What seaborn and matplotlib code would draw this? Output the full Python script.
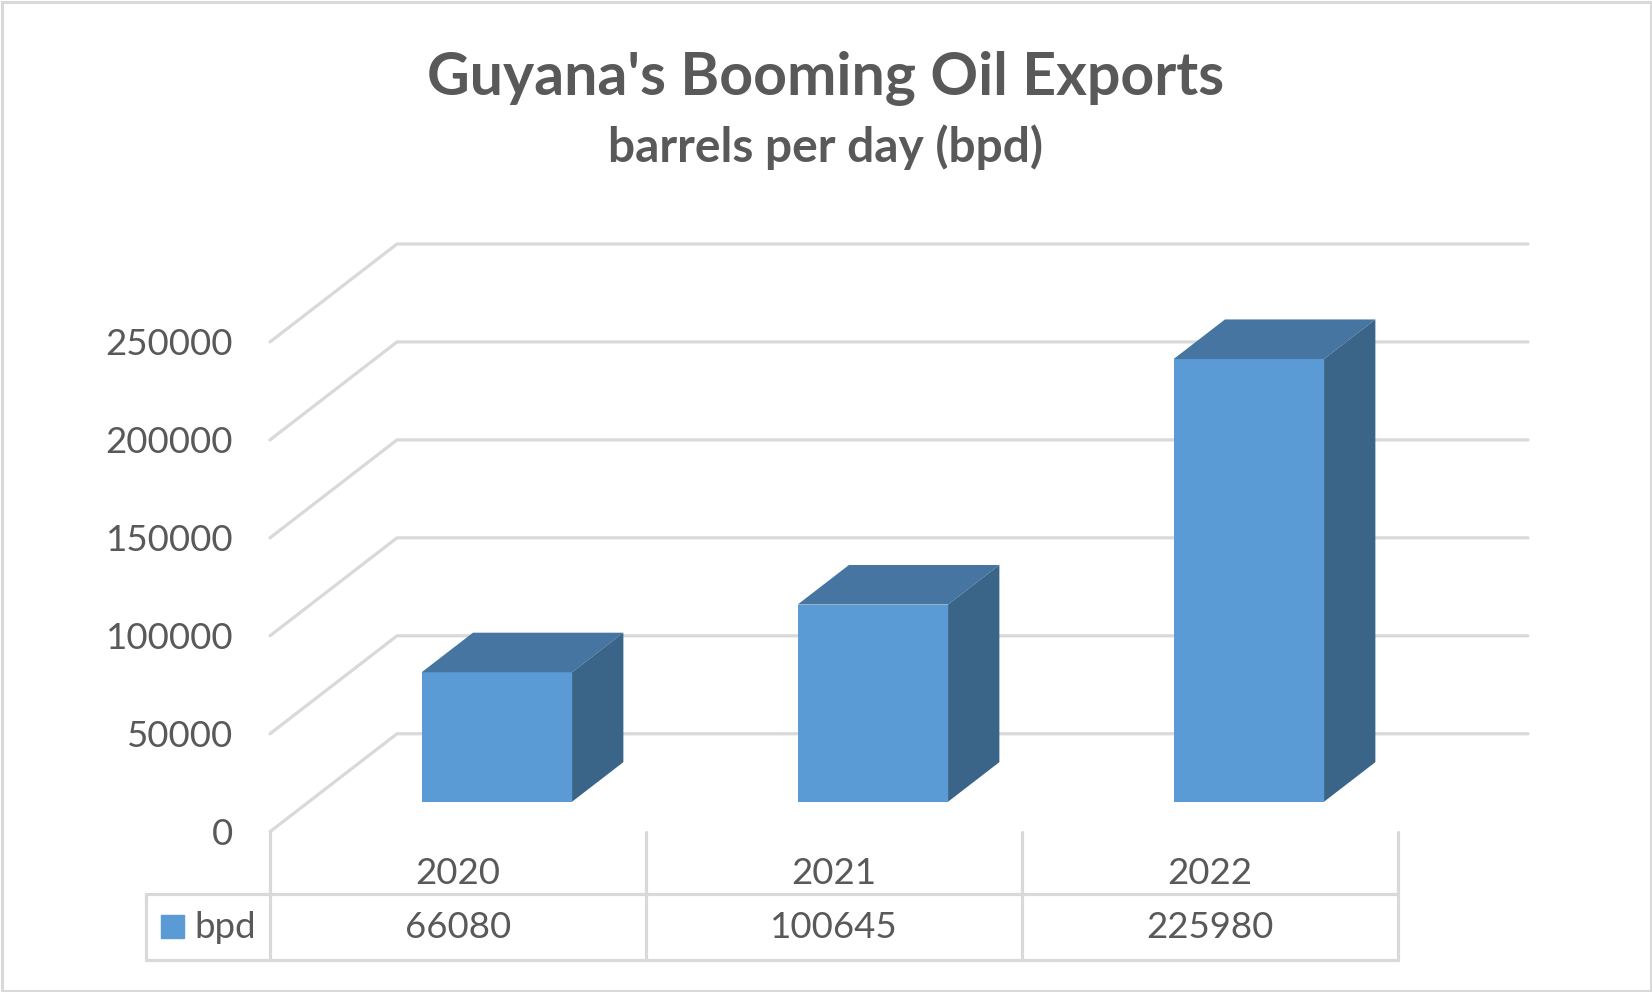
"""Guyana oil exports, 3-D column chart with data table."""
import matplotlib.pyplot as plt
import seaborn as sns
from matplotlib.lines import Line2D
from matplotlib.patches import Polygon, Rectangle

years = ["2020", "2021", "2022"]
bpd = [66080, 100645, 225980]
y_ticks = [0, 50000, 100000, 150000, 200000, 250000]
series_name = "bpd"

WIDTH, HEIGHT = 1652, 992
FRONT = "#5B9BD5"
TOP = "#4575A0"
SIDE = "#3A6488"
GRID = "#D9D9D9"
TEXT = "#595959"
LABEL_SIZE = 26.4

# pixel layout of the floor and the walls
LEFT, CELL = 270, 376
Y_ZERO = 831.7
PX_PER_TICK = 97.95
DEPTH_X, DEPTH_Y = 127 / CELL, 50000
BAR_Z0, BAR_Z1 = 0.306, 0.71

sns.set_theme(style="white")
plt.rcParams["font.family"] = ["Lato", "DejaVu Sans"]


def add_axes_px(fig, left, bottom, width, height):
    return fig.add_axes(
        [left / WIDTH, 1 - bottom / HEIGHT, width / WIDTH, height / HEIGHT]
    )


fig = plt.figure(figsize=(WIDTH / 100, HEIGHT / 100), dpi=100, facecolor="white")
fig.add_artist(
    Rectangle(
        (1.5 / WIDTH, 1.5 / HEIGHT),
        1 - 3 / WIDTH,
        1 - 3 / HEIGHT,
        transform=fig.transFigure,
        fill=False,
        edgecolor=GRID,
        linewidth=2.2,
    )
)

plot_height = 5 * PX_PER_TICK

# front plane: tick labels, wall grid and the data table
ax = add_axes_px(fig, LEFT, Y_ZERO, 3 * CELL, plot_height)
ax.set_xlim(-0.5, 2.5)
ax.set_ylim(0, y_ticks[-1])
sns.despine(ax=ax, left=True, bottom=True)
ax.patch.set_alpha(0)
ax.set_yticks(y_ticks)
ax.set_yticklabels([str(t) for t in y_ticks])
ax.set_xticks(range(len(years)))
ax.set_xticklabels(years)
ax.tick_params(axis="y", length=0, pad=26.5, labelsize=LABEL_SIZE, labelcolor=TEXT)
ax.tick_params(axis="x", length=0, pad=18.5, labelsize=LABEL_SIZE, labelcolor=TEXT)

x_back = -0.5 + DEPTH_X
x_end = (1528 - LEFT) / CELL - 0.5
for tick in y_ticks:
    ax.plot(
        [-0.5, x_back, x_end],
        [tick, tick + DEPTH_Y, tick + DEPTH_Y],
        color=GRID,
        lw=2.3,
        clip_on=False,
        zorder=1,
    )

table_top = -(893.5 - Y_ZERO) / plot_height
table_bottom = -(960 - Y_ZERO) / plot_height
table_mid = -(928 - Y_ZERO) / plot_height
table_left = -0.5 - (LEFT - 146) / CELL
trans = ax.get_xaxis_transform()
line_style = dict(color=GRID, lw=2.3, transform=trans, clip_on=False)
for edge in [-0.5, 0.5, 1.5, 2.5]:
    ax.add_line(Line2D([edge, edge], [0, table_bottom], **line_style))
ax.add_line(Line2D([table_left, 2.5], [table_top, table_top], **line_style))
ax.add_line(Line2D([table_left, 2.5], [table_bottom, table_bottom], **line_style))
ax.add_line(Line2D([table_left, table_left], [table_top, table_bottom], **line_style))

for i, value in enumerate(bpd):
    ax.text(
        i, table_mid, str(value), transform=trans, ha="center", va="center",
        fontsize=LABEL_SIZE, color=TEXT,
    )

# legend key inside the table
ax.add_patch(
    Rectangle(
        (table_left + 15 / CELL, -(937.7 - Y_ZERO) / plot_height),
        23 / CELL,
        22.7 / plot_height,
        transform=trans,
        color=FRONT,
        clip_on=False,
    )
)
ax.text(
    table_left + 48.5 / CELL, table_mid, series_name, transform=trans, ha="left",
    va="center", fontsize=LABEL_SIZE, color=TEXT,
)

# bars sit a little behind the front plane
ax_bar = add_axes_px(
    fig, LEFT + BAR_Z0 * 127, Y_ZERO - BAR_Z0 * 98, 3 * CELL, plot_height
)
sns.barplot(
    x=years, y=bpd, width=0.4, color=FRONT, saturation=1, linewidth=0, ax=ax_bar,
    zorder=3,
)
ax_bar.set_xlim(-0.5, 2.5)
ax_bar.set_ylim(0, y_ticks[-1])
ax_bar.axis("off")

dx = (BAR_Z1 - BAR_Z0) * DEPTH_X
dy = (BAR_Z1 - BAR_Z0) * DEPTH_Y
for bar in list(ax_bar.patches):
    x0, x1 = bar.get_x(), bar.get_x() + bar.get_width()
    h = bar.get_height()
    ax_bar.add_patch(
        Polygon(
            [(x0, h), (x1, h), (x1 + dx, h + dy), (x0 + dx, h + dy)],
            facecolor=TOP, edgecolor="none", clip_on=False, zorder=3,
        )
    )
    ax_bar.add_patch(
        Polygon(
            [(x1, 0), (x1, h), (x1 + dx, h + dy), (x1 + dx, dy)],
            facecolor=SIDE, edgecolor="none", clip_on=False, zorder=3,
        )
    )

fig.text(
    825.5 / WIDTH, 1 - 79 / HEIGHT, "Guyana's Booming Oil Exports", ha="center",
    va="center", fontsize=42.5, fontweight="bold", color=TEXT,
)
fig.text(
    826 / WIDTH, 1 - 147 / HEIGHT, "barrels per day (bpd)", ha="center",
    va="center", fontsize=34.5, fontweight="bold", color=TEXT,
)

fig.savefig("out.png", dpi=100)
